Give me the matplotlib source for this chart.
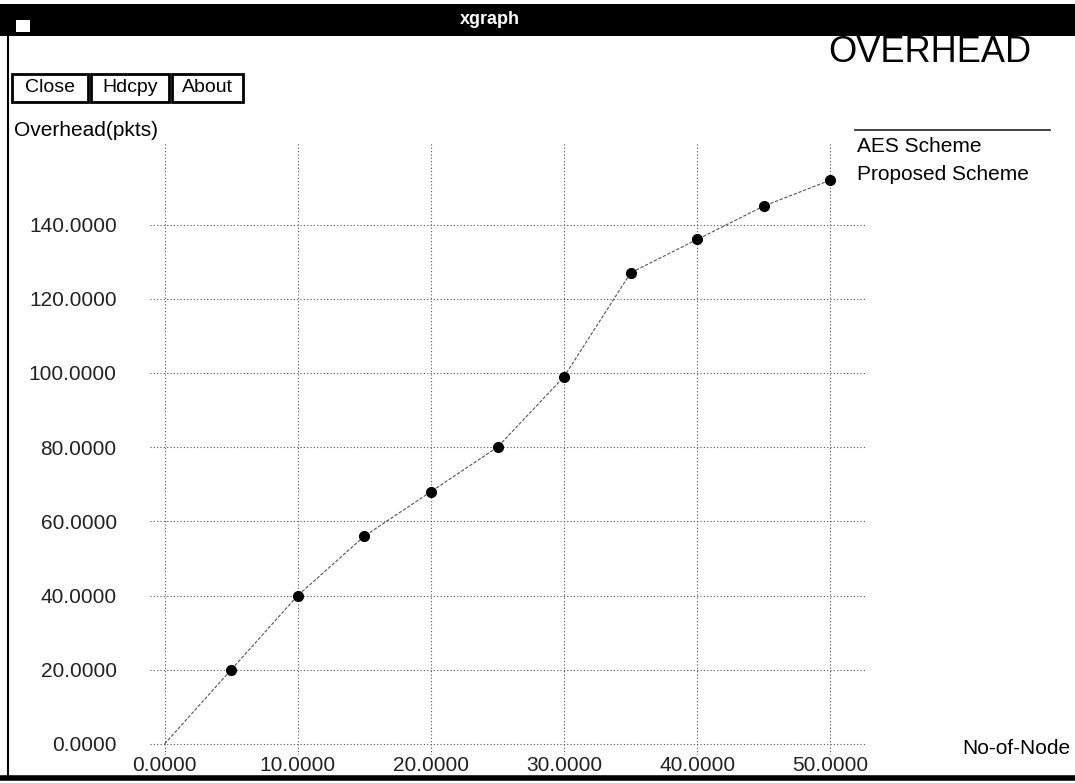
import matplotlib.pyplot as plt
from matplotlib.patches import Rectangle

noeuds = [0, 5, 10, 15, 20, 25, 30, 35, 40, 45, 50]
overhead = [0, 20, 40, 56, 68, 80, 99, 127, 136, 145, 152]
xticks = [0, 10, 20, 30, 40, 50]
yticks = [0, 20, 40, 60, 80, 100, 120, 140]
boutons = ["Close", "Hdcpy", "About"]

W, H = 1075, 783
plt.rcParams['font.family'] = ['Liberation Sans', 'DejaVu Sans']
fig = plt.figure(figsize=(W / 100, H / 100), dpi=100)
fig.patch.set_facecolor('white')


def fx(px):
    return px / W


def fy(py):
    return 1 - py / H


# zone du graphe
ax = fig.add_axes([fx(150), fy(755), fx(865) - fx(150), fy(143) - fy(755)])
ax.set_xlim(-1.1, 52.6)
ax.set_ylim(-3, 162)
for s in ax.spines.values():
    s.set_visible(False)
ax.set_xticks(xticks)
ax.set_yticks(yticks)
ax.set_xticklabels([f"{v:.4f}" for v in xticks], fontsize=15, color='#222222')
ax.set_yticklabels([f"{v:.4f}" for v in yticks], fontsize=15, color='#222222')
ax.tick_params(length=0)
ax.tick_params(axis='y', pad=24)
ax.tick_params(axis='x', pad=1)
ax.grid(True, linestyle=(0, (1, 2)), color='#555555', linewidth=0.8)

ax.plot(noeuds, overhead, linestyle=(0, (3, 1.5)), color='#555555', linewidth=0.8)
ax.plot(noeuds[1:], overhead[1:], 'o', color='black', markersize=7, linestyle='none')

# barre de titre de la fenetre
fig.patches.append(Rectangle((0, fy(36)), 1, fy(4) - fy(36), transform=fig.transFigure,
                             facecolor='black', edgecolor='none'))
fig.patches.append(Rectangle((fx(16), fy(32)), fx(14), fy(20) - fy(32), transform=fig.transFigure,
                             facecolor='white', edgecolor='none'))
fig.text(fx(490), fy(19), "xgraph", color='white', fontsize=13, fontweight='bold',
         ha='center', va='center')

# bordures
fig.add_artist(plt.Line2D([fx(8), fx(8)], [fy(36), fy(778)], color='black', linewidth=1.5))
fig.add_artist(plt.Line2D([0, 1], [fy(778), fy(778)], color='black', linewidth=4))

# boutons
x0 = 12
for b, w in zip(boutons, [76, 78, 71]):
    fig.patches.append(Rectangle((fx(x0), fy(102)), fx(w), fy(74) - fy(102), transform=fig.transFigure,
                                 facecolor='white', edgecolor='black', linewidth=2))
    fig.text(fx(x0 + w / 2), fy(88), b, fontsize=14, ha='center', va='center')
    x0 += w + 3

fig.text(fx(930), fy(52), "OVERHEAD", fontsize=26, ha='center', va='center')
fig.text(fx(14), fy(130), "Overhead(pkts)", fontsize=15, ha='left', va='center')
fig.text(fx(1070), fy(748), "No-of-Node", fontsize=15, ha='right', va='center')

# legende
fig.add_artist(plt.Line2D([fx(855), fx(1050)], [fy(130), fy(130)], color='#222222', linewidth=1.2))
fig.text(fx(857), fy(146), "AES Scheme", fontsize=15, ha='left', va='center')
fig.text(fx(857), fy(175), "Proposed Scheme", fontsize=15, ha='left', va='center')

plt.savefig('out.png', dpi=100)
plt.close()
